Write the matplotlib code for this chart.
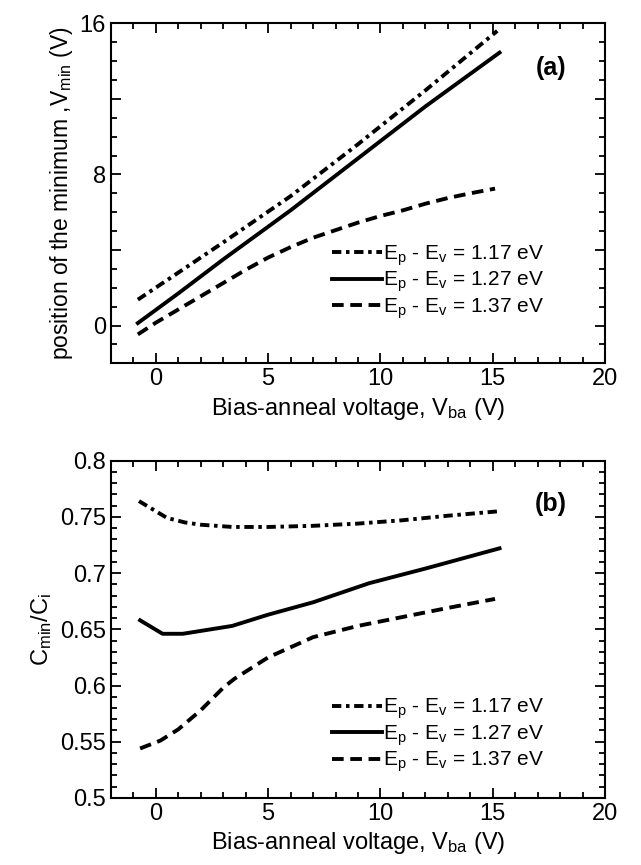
import numpy as np
import matplotlib
matplotlib.use("Agg")
from matplotlib import pyplot as plt
from matplotlib.ticker import MultipleLocator, FixedLocator, FixedFormatter

plt.rcParams["font.family"] = ["Liberation Sans", "DejaVu Sans"]
plt.rcParams["mathtext.default"] = "regular"

labels = ["E$_p$ - E$_v$ = 1.17 eV", "E$_p$ - E$_v$ = 1.27 eV", "E$_p$ - E$_v$ = 1.37 eV"]

# (a) position of the minimum vs bias-anneal voltage
a_x_117 = [-0.8, 1.0, 3.0, 6.0, 9.0, 12.0, 15.2]
a_y_117 = [1.37, 2.8, 4.4, 6.85, 9.6, 12.45, 15.6]
a_x_127 = [-0.8, 1.0, 3.0, 6.0, 9.0, 12.0, 15.3]
a_y_127 = [0.13, 1.7, 3.5, 6.1, 8.85, 11.6, 14.45]
a_x_137 = [-0.8, 0, 1, 2, 3, 4, 5, 6, 7, 8, 9, 10, 11, 12, 13, 14, 15.1]
a_y_137 = [-0.47, 0.15, 0.85, 1.55, 2.25, 2.95, 3.6, 4.15, 4.65, 5.05, 5.45,
           5.8, 6.1, 6.45, 6.75, 7.0, 7.25]

# (b) Cmin/Ci vs bias-anneal voltage
b_x_117 = [-0.75, 0, 0.5, 1.3, 2, 3.4, 5, 7, 9, 11, 13, 15.3]
b_y_117 = [0.764, 0.755, 0.749, 0.745, 0.743, 0.741, 0.741, 0.742, 0.744,
           0.747, 0.751, 0.755]
b_x_127 = [-0.7, 0.3, 1.2, 3.4, 5, 7, 9.5, 12, 15.3]
b_y_127 = [0.658, 0.646, 0.646, 0.653, 0.663, 0.674, 0.691, 0.704, 0.722]
b_x_137 = [-0.7, 0.2, 1, 2, 3, 3.5, 5, 7, 9, 11, 13, 15.1]
b_y_137 = [0.544, 0.551, 0.561, 0.578, 0.598, 0.606, 0.625, 0.643, 0.653,
           0.661, 0.669, 0.677]

styles = [(0, (2.4, 1.2, 0.9, 1.2)), "-", (0, (3, 1.7))]
lw = 2.8

fig = plt.figure(figsize=(6.41, 8.65), dpi=100)
ax1 = fig.add_axes([0.173, 0.580, 0.771, 0.393])
ax2 = fig.add_axes([0.173, 0.0775, 0.771, 0.390])


def style_axes(ax):
    ax.set_xlim(-2, 20)
    ax.xaxis.set_major_locator(MultipleLocator(5))
    ax.xaxis.set_minor_locator(MultipleLocator(1))
    ax.tick_params(which="both", direction="in", top=True, right=True,
                   labelsize=17, width=1.3)
    ax.tick_params(which="major", length=7)
    ax.tick_params(which="minor", length=4)
    for sp in ax.spines.values():
        sp.set_linewidth(1.5)
    ax.set_xlabel("Bias-anneal voltage, V$_{ba}$ (V)", fontsize=17, labelpad=4)


def add_legend(ax, y0):
    ax.legend(loc="lower left", bbox_to_anchor=(0.43, y0), frameon=False,
              fontsize=15, handlelength=2.4, handletextpad=0.05,
              labelspacing=0.1, borderaxespad=0)


for xs, ys, ls, lab in zip([a_x_117, a_x_127, a_x_137], [a_y_117, a_y_127, a_y_137],
                           styles, labels):
    ax1.plot(xs, ys, color="black", linestyle=ls, linewidth=lw, label=lab)
style_axes(ax1)
ax1.set_ylim(-2, 16)
ax1.yaxis.set_major_locator(FixedLocator([0, 4, 8, 12, 16]))
ax1.yaxis.set_major_formatter(FixedFormatter(["0", "", "8", "", "16"]))
ax1.yaxis.set_minor_locator(MultipleLocator(1))
ax1.set_ylabel("position of the minimum ,V$_{min}$ (V)", fontsize=16.5, labelpad=3)
ax1.text(0.89, 0.87, "(a)", transform=ax1.transAxes, fontsize=18,
         fontweight="bold", ha="center", va="center")
add_legend(ax1, 0.10)

for xs, ys, ls, lab in zip([b_x_117, b_x_127, b_x_137], [b_y_117, b_y_127, b_y_137],
                           styles, labels):
    ax2.plot(xs, ys, color="black", linestyle=ls, linewidth=lw, label=lab)
style_axes(ax2)
ax2.set_ylim(0.5, 0.8)
ax2.yaxis.set_major_locator(MultipleLocator(0.05))
ax2.yaxis.set_minor_locator(MultipleLocator(0.01))
ax2.yaxis.set_major_formatter(plt.FuncFormatter(lambda v, p: f"{v:.2f}".rstrip("0")))
ax2.set_ylabel("C$_{min}$/C$_{i}$", fontsize=17, labelpad=4)
ax2.text(0.89, 0.87, "(b)", transform=ax2.transAxes, fontsize=18,
         fontweight="bold", ha="center", va="center")
add_legend(ax2, 0.045)

fig.savefig("out.png", dpi=100)
